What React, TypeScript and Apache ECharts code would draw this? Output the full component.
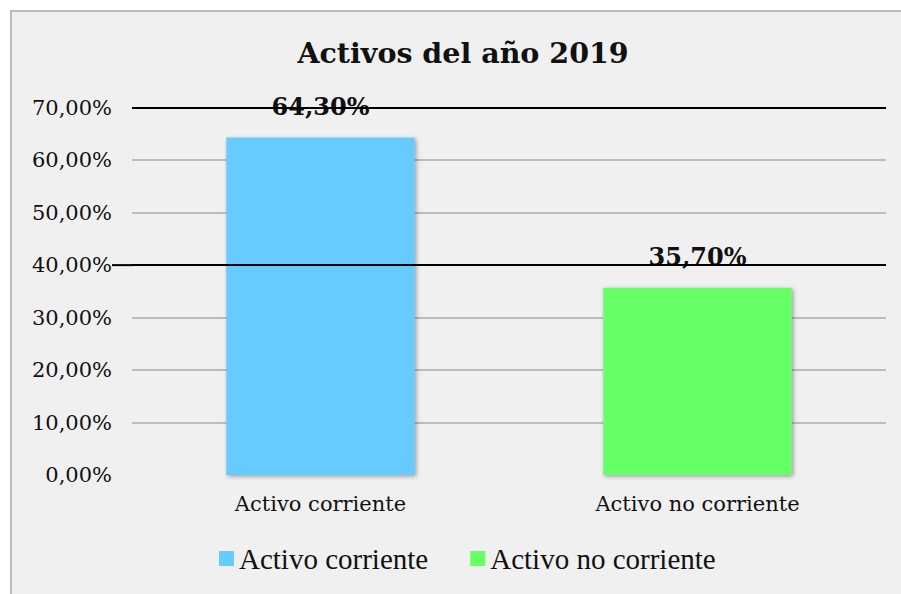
import React, { useEffect, useRef } from "react";
import * as echarts from "echarts";

const categories = ["Activo corriente", "Activo no corriente"];
const values = [64.3, 35.7];
const barColors = ["#66ccff", "#66ff66"];
const yTicks = [0, 10, 20, 30, 40, 50, 60, 70];
const highlightLines = [70, 40];
const titleText = "Activos del año 2019";

const fmt = (v: number) => v.toFixed(2).replace(".", ",") + "%";

export default function App() {
  const ref = useRef<HTMLDivElement>(null);
  useEffect(() => {
    if (!ref.current) return;
    const chart = echarts.init(ref.current, null, { renderer: "svg" });
    const gridColors = yTicks.map((t) => (t === 0 ? "rgba(0,0,0,0)" : "#ababab"));
    const series: any[] = categories.map((c, i) => ({
      name: c,
      type: "bar",
      barWidth: "50%",
      barGap: "-100%",
      data: categories.map((_, j) => (j === i ? values[i] : null)),
      itemStyle: {
        color: barColors[i],
        shadowColor: "rgba(0,0,0,0.35)",
        shadowBlur: 4,
        shadowOffsetX: 1.5,
        shadowOffsetY: 1.5,
      },
      label: {
        show: true,
        position: "top",
        distance: 19,
        formatter: (p: any) => fmt(p.value),
        fontFamily: "DejaVu Serif",
        fontWeight: "bold",
        fontSize: 24,
        color: "#111",
      },
    }));
    series.push({
      name: "lines",
      type: "line",
      data: [],
      silent: true,
      z: 5,
      markLine: {
        silent: true,
        symbol: "none",
        label: { show: false },
        lineStyle: { color: "#000", width: 2, type: "solid" },
        data: highlightLines.map((v) => ({ yAxis: v })),
      },
    });
    chart.setOption({
      animation: false,
      backgroundColor: "transparent",
      title: {
        text: titleText,
        left: 458,
        textAlign: "center",
        top: 33,
        textStyle: {
          fontFamily: "DejaVu Serif",
          fontWeight: "bold",
          fontSize: 28.5,
          color: "#111",
        },
      },
      legend: {
        data: categories,
        left: 214,
        top: 539,
        itemWidth: 15,
        itemHeight: 15,
        itemGap: 42,
        icon: "rect",
        textStyle: {
          fontFamily: "Liberation Serif",
          fontSize: 29,
          color: "#111",
        },
      },
      grid: { left: 132, right: 15, top: 107.7, bottom: 119, containLabel: false },
      xAxis: {
        type: "category",
        data: categories,
        axisLine: { show: false },
        axisTick: { show: false },
        axisLabel: {
          fontFamily: "DejaVu Serif",
          fontSize: 21,
          color: "#111",
          margin: 18,
        },
      },
      yAxis: {
        type: "value",
        min: 0,
        max: 70,
        interval: 10,
        axisLine: { show: false },
        axisTick: { show: false },
        axisLabel: {
          formatter: (v: number) => fmt(v),
          fontFamily: "DejaVu Serif",
          fontSize: 21,
          color: "#111",
          margin: 20,
        },
        splitLine: { lineStyle: { color: gridColors, width: 1.5 } },
      },
      series,
    });
    const y40 = chart.convertToPixel({ yAxisIndex: 0 }, 40) as number;
    chart.setOption({
      graphic: [
        {
          type: "line",
          shape: { x1: 112, y1: y40, x2: 133, y2: y40 },
          style: { stroke: "#000", lineWidth: 2 },
          z: 10,
        },
      ],
    });
    return () => chart.dispose();
  }, []);
  return (
    <div style={{ position: "fixed", left: 0, top: 0, width: 901, height: 594, background: "#fff", overflow: "hidden" }}>
      <div
        style={{
          position: "absolute",
          left: 10,
          top: 10,
          width: 900,
          height: 600,
          borderLeft: "2px solid #bcbcbc",
          borderTop: "2px solid #bcbcbc",
          background: "#f0f0f0",
        }}
      />
      <div ref={ref} style={{ position: "absolute", left: 0, top: 0, width: 901, height: 594 }} />
    </div>
  );
}
